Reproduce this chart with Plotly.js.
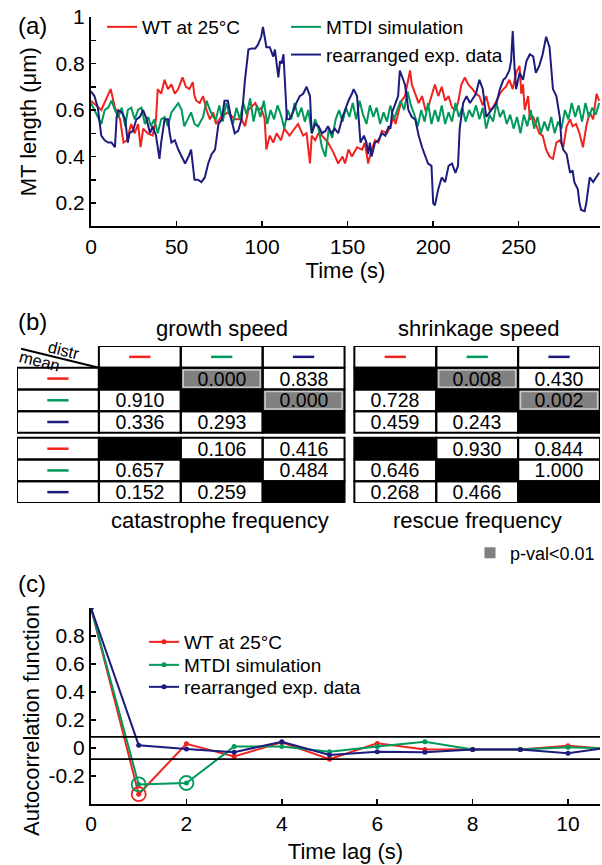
<!DOCTYPE html>
<html><head><meta charset="utf-8">
<script src="https://cdn.plot.ly/plotly-3.0.1.min.js"></script>
<style>html,body{margin:0;padding:0;background:#fff}#chart{width:602px;height:865px}</style>
</head><body><div id="chart"></div>
<script>
const W = 602, H = 865;
const FONT = 'Liberation Sans, Arial, Helvetica, sans-serif';

// ---------- shared series ----------
const seriesNames = ['WT at 25°C', 'MTDI simulation', 'rearranged exp. data'];
const seriesColors = ['#f0231e', '#00995a', '#1c1c7e'];

// ---------- panel (a): MT length vs time ----------
const tWT = [0,6,11.5,14,17,19,21,23.5,25.5,27.5,29,30.5,33,36,38,39,41,43,45,47,49,51,53.5,55.5,57.5,59.5,60.5,61.5,63.5,65.5,67.5,69.5,71.5,73,76,80,84,88,90,92,96,98,99.5,101.5,102.5,104.5,106.5,108.5,111,113,116,119,121,124,126,128,129,131,133,135,138.5,141.5,144.5,147,148.5,150.5,152.5,155.5,158.5,160,162,164,166,168,170,173,175,177,178,180,181.5,183.5,185.5,186.5,187.5,189.5,191.5,193.5,195.5,197,199,201,203,205,207,209,211,213,214.5,216.5,218.5,220.5,223,225,227,229,231,233,235,237,239,241,242.5,244.5,246.5,248.5,250.5,251.5,252.5,253.5,255.5,256.5,258.5,260,262,264,266,268,270,272,274,276,278,280,281.5,283.5,285.5,287.5,289.5,291.5,293.5,295.5,297];
const lenWT = [0.64,0.60,0.69,0.61,0.56,0.46,0.47,0.54,0.50,0.54,0.44,0.52,0.50,0.49,0.56,0.69,0.67,0.73,0.69,0.71,0.67,0.69,0.74,0.70,0.69,0.72,0.66,0.64,0.63,0.66,0.60,0.56,0.59,0.54,0.57,0.59,0.56,0.56,0.53,0.60,0.63,0.60,0.61,0.56,0.43,0.49,0.46,0.50,0.47,0.52,0.49,0.52,0.54,0.49,0.50,0.37,0.49,0.47,0.50,0.49,0.46,0.42,0.37,0.40,0.37,0.43,0.40,0.44,0.43,0.46,0.37,0.43,0.47,0.46,0.51,0.50,0.53,0.57,0.54,0.60,0.64,0.66,0.74,0.77,0.71,0.67,0.63,0.66,0.60,0.61,0.66,0.71,0.66,0.70,0.64,0.66,0.61,0.60,0.63,0.71,0.74,0.71,0.69,0.67,0.66,0.62,0.66,0.60,0.61,0.64,0.67,0.69,0.70,0.73,0.69,0.76,0.79,0.67,0.71,0.60,0.66,0.56,0.57,0.54,0.50,0.49,0.43,0.40,0.39,0.46,0.47,0.44,0.53,0.56,0.53,0.54,0.50,0.44,0.53,0.59,0.56,0.67,0.64];

const tSim = [0,2,4,6,8,10,12,14,16,18,20,21.5,23.5,25.5,27.5,29.5,31.5,33.5,35,37,39,41,43,45,47,49,51,53,54.5,56.5,58.5,60.5,62.5,65.5,67.5,69.5,71.5,73,75,77,79,81,83,85,87,89,91,93,95,97,99,101,103,105,107,109,111,113,115,117,119,121,123,125,127,129,131,133,135,137,139,141,143,145,147,149,151,153,155,157,159,161,163,165,167,169,171,173,175,177,179,181,183,185,187,189,191,193,195,197,199,201,203,205,207,209,211,213,215,217,219,221,223,225,227,229,231,233,235,237,239,241,243,245,247,249,251,253,255,257,259,261,263,265,267,269,271,273,275,277,279,281,283,285,287,289,291,293,295,297];
const lenSim = [0.63,0.60,0.57,0.54,0.60,0.61,0.64,0.60,0.57,0.61,0.53,0.60,0.61,0.56,0.60,0.61,0.54,0.57,0.53,0.56,0.50,0.56,0.57,0.53,0.59,0.61,0.63,0.60,0.53,0.56,0.59,0.54,0.53,0.57,0.64,0.60,0.57,0.56,0.62,0.55,0.63,0.58,0.54,0.61,0.56,0.63,0.58,0.65,0.55,0.62,0.57,0.64,0.54,0.60,0.56,0.62,0.58,0.52,0.60,0.56,0.63,0.57,0.61,0.55,0.60,0.50,0.56,0.52,0.44,0.40,0.52,0.48,0.56,0.60,0.55,0.61,0.57,0.63,0.56,0.64,0.58,0.54,0.62,0.57,0.61,0.54,0.59,0.55,0.62,0.56,0.60,0.64,0.60,0.68,0.62,0.58,0.53,0.60,0.55,0.63,0.54,0.60,0.55,0.62,0.54,0.59,0.55,0.63,0.57,0.61,0.55,0.60,0.57,0.62,0.56,0.61,0.52,0.58,0.55,0.63,0.57,0.60,0.54,0.58,0.52,0.57,0.50,0.58,0.53,0.60,0.52,0.57,0.50,0.55,0.51,0.57,0.50,0.55,0.52,0.60,0.56,0.63,0.57,0.62,0.55,0.63,0.57,0.61,0.58,0.63];

const tRe = [0,2,4,5,6,8,10,12,14,15,16,18,20,21.5,22.5,24.5,26.5,28.5,30.5,32.5,34.5,36,38,40,41,43,45,46,47,49,51,53,55,57,58.5,60.5,62.5,64.5,66.5,68.5,70.5,72.5,74.5,76.5,78,80,82,84,86,88,90,92,94,96,97.5,99.5,100.5,101.5,102.5,104.5,106.5,107.5,109.5,110.5,111.5,112.5,114.5,116,118,120,122,124,126,128,129,131,133,135,137,138.5,140.5,142.5,144.5,147,148.5,150.5,152.5,153.5,155.5,157.5,159.5,161,162,163,164,166,168,170,172,174,175,176,178,179.5,180.5,181.5,183.5,185.5,187.5,189.5,191.5,193.5,195.5,197,199,200,201,202,203,205,207,209,211,213,214.5,215.5,217.5,219.5,221.5,225,227,229,231,233,235,237,239,241,242.5,244.5,245.5,246.5,247.5,248.5,250.5,252.5,254.5,256.5,258.5,260,262,264,266,267,268,270,272,274,275,276,278,279,280,281.5,282.5,284.5,285.5,286.5,288.5,289.5,291.5,293.5,295.5,297];
const lenRe = [0.68,0.66,0.61,0.54,0.49,0.47,0.46,0.46,0.44,0.57,0.60,0.59,0.56,0.46,0.50,0.51,0.56,0.57,0.60,0.56,0.50,0.53,0.49,0.39,0.46,0.56,0.56,0.50,0.46,0.47,0.43,0.40,0.37,0.40,0.43,0.30,0.30,0.29,0.31,0.37,0.41,0.43,0.54,0.56,0.64,0.64,0.56,0.50,0.51,0.56,0.73,0.86,0.865,0.865,0.88,0.915,0.957,0.915,0.87,0.87,0.83,0.86,0.74,0.81,0.80,0.84,0.56,0.56,0.59,0.63,0.66,0.67,0.70,0.66,0.50,0.54,0.53,0.50,0.51,0.53,0.50,0.52,0.50,0.57,0.60,0.64,0.67,0.69,0.66,0.46,0.49,0.46,0.41,0.46,0.40,0.46,0.47,0.50,0.49,0.53,0.52,0.59,0.63,0.66,0.77,0.75,0.71,0.60,0.57,0.56,0.49,0.44,0.40,0.37,0.36,0.20,0.19,0.23,0.26,0.31,0.29,0.36,0.37,0.33,0.36,0.52,0.63,0.66,0.63,0.67,0.73,0.69,0.57,0.59,0.61,0.63,0.69,0.73,0.74,0.77,0.81,0.94,0.79,0.69,0.76,0.73,0.81,0.84,0.83,0.76,0.79,0.84,0.915,0.89,0.87,0.69,0.66,0.57,0.46,0.43,0.41,0.37,0.33,0.34,0.29,0.26,0.20,0.17,0.165,0.20,0.31,0.29,0.31,0.33];

// ---------- panel (b): p-value tables (rows = mean, cols = distr) ----------
const tableTitlesTop = ['growth speed', 'shrinkage speed'];
const tableTitlesBottom = ['catastrophe frequency', 'rescue frequency'];
const pGrowth = [[null,0.000,0.838],[0.910,null,0.000],[0.336,0.293,null]];
const pShrinkage = [[null,0.008,0.430],[0.728,null,0.002],[0.459,0.243,null]];
const pCatastrophe = [[null,0.106,0.416],[0.657,null,0.484],[0.152,0.259,null]];
const pRescue = [[null,0.930,0.844],[0.646,null,1.000],[0.268,0.466,null]];
const sigLevel = 0.01;
const sigLabel = 'p-val<0.01';

// ---------- panel (c): autocorrelation ----------
const lags = [0,1,2,3,4,5,6,7,8,9,10,11];
const acfWT  = [1.0,-0.33,0.03,-0.06,0.04,-0.08,0.033,-0.01,-0.01,-0.01,0.016,-0.01];
const acfSim = [1.0,-0.26,-0.25,0.01,0.01,-0.026,0.01,0.045,-0.01,-0.01,0.005,-0.005];
const acfRe  = [1.0,0.02,-0.007,-0.03,0.045,-0.05,-0.026,-0.03,-0.01,-0.01,-0.038,0.01];
const sigLags = [1,1,2];
const sigAcf = [-0.33,-0.26,-0.25];
const sigSeries = [0,1,1];
const confBand = [0.08,-0.08];
const acfYTicks = [-0.2,0,0.2,0.4,0.6,0.8];
const acfYTickText = ['-0.2','0','0.2','0.4','0.6','0.8'];

// ---------- helpers ----------
const px = v => v / W;
const py = v => 1 - v / H;
const blackFont = (s) => ({family: FONT, size: s, color: '#000'});

const traces = [];
// panel a
const aData = [[tWT, lenWT], [tSim, lenSim], [tRe, lenRe]];
aData.forEach((d, i) => {
  traces.push({type: 'scatter', mode: 'lines', x: d[0], y: d[1], xaxis: 'x', yaxis: 'y',
    name: seriesNames[i], line: {color: seriesColors[i], width: 2},
    legend: i === 0 ? 'legend' : 'legend2', showlegend: true});
});

// panel b (table) — geometry in table units
const colEdges = [[0,1],[1,2],[2,3],[3,4],[4.12,5.12],[5.12,6.12],[6.12,7.12]];
const rowEdges = [[0,1],[1,2],[2,3],[3,4],[4.23,5.23],[5.23,6.23],[6.23,7.23]];
const xEdges = [1,2,3,4,4.12,5.12,6.12,7.12];
const yEdges = [1,2,3,4,4.23,5.23,6.23,7.23];
const blocks = [[pGrowth, pShrinkage], [pCatastrophe, pRescue]];
const zGrid = [], tGrid = [], cellCats = [];
for (let br = 0; br < 2; br++) {
  for (let r = 0; r < 3; r++) {
    const zr = [], tr = [];
    for (let bc = 0; bc < 2; bc++) {
      for (let c = 0; c < 3; c++) {
        const v = blocks[br][bc][r][c];
        const cat = v === null ? 2 : (v < sigLevel ? 1 : 0);
        zr.push(cat); tr.push(v === null ? '' : v.toFixed(3));
        cellCats.push({row: br * 3 + r + 1, col: bc * 3 + c + 1, cat: cat});
      }
      if (bc === 0) { zr.push(null); tr.push(''); }
    }
    zGrid.push(zr); tGrid.push(tr);
  }
  if (br === 0) { zGrid.push(new Array(7).fill(null)); tGrid.push(new Array(7).fill('')); }
}
traces.push({type: 'heatmap', x: xEdges, y: yEdges, z: zGrid, text: tGrid, texttemplate: '%{text}',
  textfont: {family: FONT, size: 19.5, color: '#000'}, xaxis: 'x2', yaxis: 'y2',
  colorscale: [[0,'#ffffff'],[0.5,'#808080'],[1,'#000000']], zmin: 0, zmax: 2, showscale: false,
  hoverinfo: 'skip', showlegend: false});
// colored dashes in header row / header column
for (let k = 0; k < 3; k++) {
  const xs = [], ys = [];
  for (let c = 1; c <= 6; c++) if ((c - 1) % 3 === k) {
    const cx = (colEdges[c][0] + colEdges[c][1]) / 2, cy = (rowEdges[0][0] + rowEdges[0][1]) / 2;
    xs.push(cx - 0.13, cx + 0.13, null); ys.push(cy, cy, null);
  }
  for (let r = 1; r <= 6; r++) if ((r - 1) % 3 === k) {
    const cx = (colEdges[0][0] + colEdges[0][1]) / 2, cy = (rowEdges[r][0] + rowEdges[r][1]) / 2;
    xs.push(cx - 0.13, cx + 0.13, null); ys.push(cy, cy, null);
  }
  traces.push({type: 'scatter', mode: 'lines', x: xs, y: ys, xaxis: 'x2', yaxis: 'y2',
    line: {color: seriesColors[k], width: 2.5}, showlegend: false, hoverinfo: 'skip'});
}
// significance legend entry
traces.push({type: 'scatter', mode: 'markers', x: [null], y: [null], xaxis: 'x2', yaxis: 'y2',
  name: sigLabel, marker: {symbol: 'square', size: 11, color: '#808080'}, legend: 'legend6', showlegend: true});

// panel c
const cData = [acfWT, acfSim, acfRe];
cData.forEach((d, i) => {
  traces.push({type: 'scatter', mode: 'lines+markers', x: lags, y: d, xaxis: 'x3', yaxis: 'y3',
    name: seriesNames[i], line: {color: seriesColors[i], width: 2},
    marker: {color: seriesColors[i], size: 5}, legend: 'legend' + (3 + i), showlegend: true});
});
traces.push({type: 'scatter', mode: 'markers', x: sigLags, y: sigAcf, xaxis: 'x3', yaxis: 'y3',
  marker: {symbol: 'circle-open', size: 14, color: sigSeries.map(s => seriesColors[s]), line: {width: 1.8}},
  showlegend: false, hoverinfo: 'skip'});

// shapes
const shapes = [];
for (let r = 0; r < 7; r++) for (let c = 0; c < 7; c++) {
  if (r === 0 && c === 0) continue;
  shapes.push({type: 'rect', xref: 'x2', yref: 'y2', x0: colEdges[c][0], x1: colEdges[c][1],
    y0: rowEdges[r][0], y1: rowEdges[r][1], line: {color: '#000', width: 2}, fillcolor: 'rgba(0,0,0,0)', layer: 'above'});
}
cellCats.filter(d => d.cat === 1).forEach(d => {
  shapes.push({type: 'rect', xref: 'x2', yref: 'y2', x0: colEdges[d.col][0] + 0.03, x1: colEdges[d.col][1] - 0.03,
    y0: rowEdges[d.row][0] + 0.1, y1: rowEdges[d.row][1] - 0.1, line: {color: '#c8c8c8', width: 1.5}, fillcolor: 'rgba(0,0,0,0)', layer: 'above'});
});
shapes.push({type: 'line', xref: 'x2', yref: 'y2', x0: 0.05, y0: 0.13, x1: 1, y1: 1, line: {color: '#000', width: 2}});
confBand.forEach(v => shapes.push({type: 'line', xref: 'x3 domain', yref: 'y3', x0: 0, x1: 1, y0: v, y1: v,
  line: {color: '#000', width: 1.8}}));

// annotations
const ann = [];
const lab = (t, x, y, s, extra) => ann.push(Object.assign({text: t, xref: 'paper', yref: 'paper', x: px(x), y: py(y),
  showarrow: false, font: blackFont(s), xanchor: 'center', yanchor: 'middle'}, extra || {}));
lab('(a)', 32, 25, 24);
lab('(b)', 32, 321, 24);
lab('(c)', 32, 583, 24);
lab(tableTitlesTop[0], 222, 328, 22);
lab(tableTitlesTop[1], 478, 328, 22);
lab(tableTitlesBottom[0], 220, 520, 22);
lab(tableTitlesBottom[1], 477, 520, 22);
lab('Autocorrelation function', 31, 721, 22, {textangle: -90});
ann.push({text: 'distr', xref: 'x2', yref: 'y2', x: 0.57, y: 0.18, showarrow: false, textangle: 14, font: blackFont(16.5)});
ann.push({text: 'mean', xref: 'x2', yref: 'y2', x: 0.28, y: 0.69, showarrow: false, textangle: 14, font: blackFont(16.5)});

const axisBase = {showline: true, linecolor: '#000', linewidth: 2, ticks: 'inside', ticklen: 5, tickwidth: 1.5,
  tickcolor: '#000', showgrid: false, zeroline: false, tickfont: blackFont(21), fixedrange: true};
const legendBase = {bgcolor: 'rgba(0,0,0,0)', borderwidth: 0, font: blackFont(19), itemwidth: 30, xanchor: 'left'};

const layout = {
  width: W, height: H, margin: {l: 0, r: 0, t: 0, b: 0}, paper_bgcolor: '#fff', plot_bgcolor: 'rgba(0,0,0,0)',
  font: {family: FONT, color: '#000'},
  xaxis: Object.assign({}, axisBase, {domain: [px(91), px(600)], range: [0, 297.5], anchor: 'y', tick0: 0, dtick: 50,
    title: {text: 'Time (s)', font: blackFont(22), standoff: 6}}),
  yaxis: Object.assign({}, axisBase, {domain: [py(226.3), py(17)], range: [0.1, 1.0], anchor: 'x', tick0: 0, dtick: 0.2,
    minor: {dtick: 0.1, ticks: 'inside', ticklen: 5, tickcolor: '#000', tickwidth: 1.5},
    title: {text: 'MT length (μm)', font: blackFont(22)}}),
  xaxis2: {domain: [px(17), px(600)], range: [0, 7.12], anchor: 'y2', visible: false, fixedrange: true},
  yaxis2: {domain: [py(503), py(346)], range: [7.23, 0], anchor: 'x2', visible: false, fixedrange: true},
  xaxis3: Object.assign({}, axisBase, {domain: [px(91), px(600)], range: [0, 10.67], anchor: 'y3', tick0: 0, dtick: 2,
    title: {text: 'Time lag (s)', font: blackFont(22), standoff: 9}}),
  yaxis3: Object.assign({}, axisBase, {domain: [py(804), py(608)], range: [-0.4, 1.0], anchor: 'x3',
    tickmode: 'array', tickvals: acfYTicks, ticktext: acfYTickText}),
  legend: Object.assign({}, legendBase, {x: px(102), y: py(27), yanchor: 'middle'}),
  legend2: Object.assign({}, legendBase, {x: px(286), y: py(8), yanchor: 'top'}),
  legend3: Object.assign({}, legendBase, {x: px(144), y: py(642), yanchor: 'middle'}),
  legend4: Object.assign({}, legendBase, {x: px(144), y: py(665), yanchor: 'middle'}),
  legend5: Object.assign({}, legendBase, {x: px(144), y: py(687), yanchor: 'middle'}),
  legend6: Object.assign({}, legendBase, {x: px(470), y: py(553), yanchor: 'middle', font: blackFont(18)}),
  shapes: shapes,
  annotations: ann
};

Plotly.newPlot('chart', traces, layout, {staticPlot: true, displayModeBar: false});
</script>
</body></html>
